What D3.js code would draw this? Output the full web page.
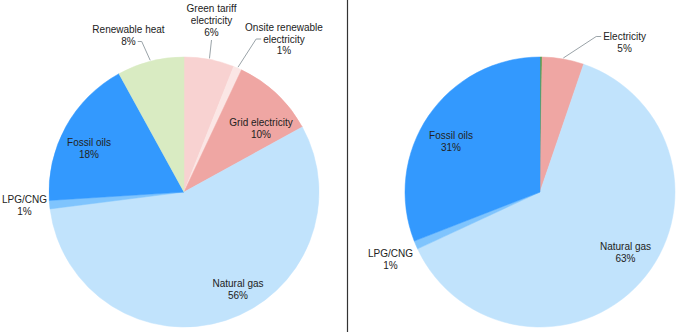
<!DOCTYPE html>
<html>
<head>
<meta charset="utf-8">
<script src="https://cdn.jsdelivr.net/npm/d3@7"></script>
<style>
  html, body { margin: 0; padding: 0; background: #ffffff; }
  svg { display: block; }
  text { font-family: Arial, "Liberation Sans", sans-serif; font-size: 10px; fill: #222; }
</style>
</head>
<body>
<svg id="chart" width="680" height="332"></svg>
<script>
// Energy mix, two pies (clockwise from 12 o'clock)
const leftCategories = ["Green tariff electricity", "Onsite renewable electricity", "Grid electricity",
                        "Natural gas", "LPG/CNG", "Fossil oils", "Renewable heat"];
const leftValues = [6, 1, 10, 56, 1, 18, 8];
const leftColors = ["#f8d2d1", "#fbe6e5", "#efa6a3", "#c1e3fc", "#7fc4fd", "#3399fe", "#d9ebc2"];

const rightCategories = ["Other", "Electricity", "Natural gas", "LPG/CNG", "Fossil oils"];
const rightValues = [0.25, 5, 63, 1, 31];
const rightColors = ["#5f9e48", "#efa6a3", "#c1e3fc", "#7fc4fd", "#3399fe"];

// Label text lines per category (the percentage line is appended from the value)
const labelLines = {
  "Green tariff electricity": ["Green tariff", "electricity"],
  "Onsite renewable electricity": ["Onsite renewable", "electricity"],
  "Grid electricity": ["Grid electricity"],
  "Natural gas": ["Natural gas"],
  "LPG/CNG": ["LPG/CNG"],
  "Fossil oils": ["Fossil oils"],
  "Renewable heat": ["Renewable heat"],
  "Electricity": ["Electricity"]
};

// Label placement relative to the pie centre: text centre x, first baseline y, line step,
// and whether a leader line joins it to the slice edge.
const leftLayout = {
  "Green tariff electricity": { x: 27.5, y: -180, step: 12, leader: "down" },
  "Onsite renewable electricity": { x: 100, y: -161, step: 11.5, leader: "left" },
  "Grid electricity": { x: 77, y: -66, step: 11.5 },
  "Natural gas": { x: 54, y: 95, step: 11.5 },
  "LPG/CNG": { x: -159.5, y: 11, step: 11.5 },
  "Fossil oils": { x: -95, y: -46, step: 11.5 },
  "Renewable heat": { x: -55.5, y: -159, step: 12, leader: "right" }
};
const rightLayout = {
  "Electricity": { x: 84.6, y: -152, step: 12, leader: "left" },
  "Natural gas": { x: 85.5, y: 58, step: 12 },
  "LPG/CNG": { x: -149.5, y: 65, step: 11.5 },
  "Fossil oils": { x: -89, y: -53, step: 11.5 }
};

const svg = d3.select("#chart");
const radius = 135;

// Divider between the two panels
svg.append("line")
  .attr("x1", 347.5).attr("x2", 347.5)
  .attr("y1", 0).attr("y2", 332)
  .attr("stroke", "#333").attr("stroke-width", 1.2);

function drawPie(cx, cy, categories, values, colors, layout) {
  const g = svg.append("g").attr("transform", `translate(${cx},${cy})`);
  const data = categories.map((c, i) => ({ name: c, value: values[i], color: colors[i] }));
  const pie = d3.pie().sort(null).value(d => d.value);
  const arc = d3.arc().innerRadius(0).outerRadius(radius);
  const arcs = pie(data);

  g.selectAll("path.slice")
    .data(arcs)
    .join("path")
    .attr("class", "slice")
    .attr("d", arc)
    .attr("fill", d => d.data.color)
    .attr("stroke", d => d.data.color)
    .attr("stroke-width", 0.5);

  arcs.forEach(a => {
    const L = layout[a.data.name];
    if (!L) return;
    const lines = labelLines[a.data.name].concat([Math.round(a.data.value) + "%"]);
    const t = g.append("text").attr("text-anchor", "middle");
    lines.forEach((s, i) => {
      t.append("tspan").attr("x", L.x).attr("y", L.y + i * L.step).text(s);
    });

    if (L.leader) {
      const mid = (a.startAngle + a.endAngle) / 2;
      const edge = [Math.sin(mid) * (radius + 1), -Math.cos(mid) * (radius + 1)];
      let pts;
      const bb = t.node().getBBox();
      if (L.leader === "down") {
        pts = [[L.x, bb.y + bb.height + 2], edge];
      } else if (L.leader === "left") {
        // start beside the second line, short horizontal tick, then to the slice
        const lineY = L.y + (lines.length - 2) * L.step - 3.5;
        const w = t.node().childNodes[lines.length - 2].getComputedTextLength();
        const x0 = L.x - w / 2 - 2;
        pts = [[x0, lineY], [x0 - 5, lineY], edge];
      } else {
        const lineY = L.y + (lines.length - 1) * L.step - 3.5;
        const w = t.node().childNodes[lines.length - 1].getComputedTextLength();
        const x0 = L.x + w / 2 + 2;
        pts = [[x0, lineY], [x0 + 4, lineY], edge];
      }
      g.append("path")
        .attr("d", d3.line()(pts))
        .attr("fill", "none")
        .attr("stroke", "#9aa3a8")
        .attr("stroke-width", 1);
    }
  });
}

drawPie(184, 192, leftCategories, leftValues, leftColors, leftLayout);
drawPie(540, 192, rightCategories, rightValues, rightColors, rightLayout);
</script>
</body>
</html>
